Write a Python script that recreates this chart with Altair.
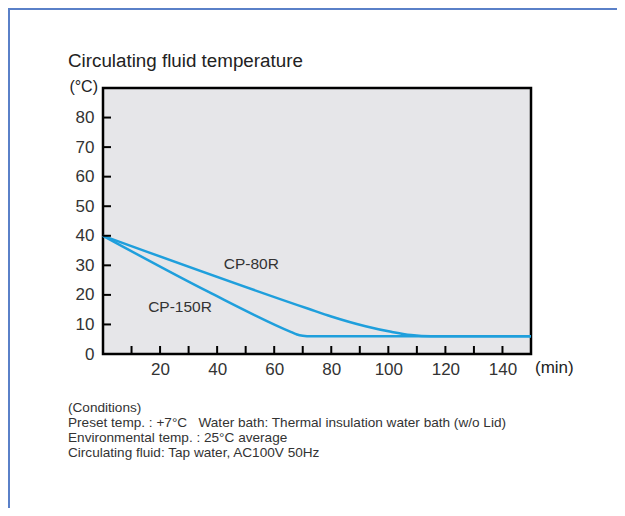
import altair as alt
import pandas as pd

# Data
cp80_t = [0, 72, 80, 92, 101, 108, 115, 150]
cp80_v = [40, 15.3, 12.7, 9.4, 7.5, 6.4, 6.0, 6.0]
cp150_t = [0, 37, 66, 68, 70, 73, 150]
cp150_v = [40, 21, 7.4, 6.6, 6.2, 6.0, 6.0]
x_ticks = [10, 20, 30, 40, 50, 60, 70, 80, 90, 100, 110, 120, 130, 140]
y_ticks = [10, 20, 30, 40, 50, 60, 70, 80]
x_labels = [20, 40, 60, 80, 100, 120, 140]
y_labels = [0, 10, 20, 30, 40, 50, 60, 70, 80]
labels = ["CP-80R", "CP-150R"]
label_t = [52, 27]
label_v = [30.5, 16]
conditions = [
    "(Conditions)",
    "Preset temp. : +7°C\u00a0\u00a0\u00a0Water bath: Thermal insulation water bath (w/o Lid)",
    "Environmental temp. : 25°C average",
    "Circulating fluid: Tap water, AC100V 50Hz",
]

W, H = 428, 266
FONT = "Liberation Sans"
BLUE = "#1f9fdc"

lines_df = pd.concat([
    pd.DataFrame({"t": cp80_t, "v": cp80_v, "s": "CP-80R"}),
    pd.DataFrame({"t": cp150_t, "v": cp150_v, "s": "CP-150R"}),
])

xs = alt.Scale(domain=[0, 150], nice=False, zero=False)
ys = alt.Scale(domain=[0, 90], nice=False)
xa = alt.Axis(values=x_labels, title=None, grid=False, labelOverlap=False,
              domain=False, ticks=False, labelFontSize=17, labelFont=FONT,
              labelColor="#333333", labelPadding=7)
ya = alt.Axis(values=y_labels, title=None, grid=False, labelOverlap=False,
              domain=False, ticks=False, labelFontSize=17, labelFont=FONT,
              labelColor="#333333", labelPadding=9)

lines = alt.Chart(lines_df).mark_line(
    color=BLUE, strokeWidth=2.5, interpolate="monotone").encode(
    x=alt.X("t:Q", scale=xs, axis=xa),
    y=alt.Y("v:Q", scale=ys, axis=ya),
    detail="s:N")

xt = alt.Chart(pd.DataFrame({"t": x_ticks})).mark_rule(
    color="black", strokeWidth=2).encode(
    x=alt.X("t:Q", scale=xs, axis=xa), y=alt.value(H), y2=alt.value(H - 8))
yt = alt.Chart(pd.DataFrame({"v": y_ticks})).mark_rule(
    color="black", strokeWidth=2).encode(
    y=alt.Y("v:Q", scale=ys, axis=ya), x=alt.value(0), x2=alt.value(8))

lab = alt.Chart(pd.DataFrame({"t": label_t, "v": label_v, "l": labels})).mark_text(
    fontSize=15.5, font=FONT, color="#333333").encode(
    x=alt.X("t:Q", scale=xs, axis=xa), y=alt.Y("v:Q", scale=ys, axis=ya), text="l:N")

title = alt.Chart(pd.DataFrame({"l": ["Circulating fluid temperature"]})).mark_text(
    fontSize=18.8, font=FONT, color="#222222", align="left", baseline="middle").encode(
    x=alt.value(-35), y=alt.value(-27), text="l:N")
unit_y = alt.Chart(pd.DataFrame({"l": ["(°C)"]})).mark_text(
    fontSize=16, font=FONT, color="#222222", align="right", baseline="middle").encode(
    x=alt.value(-5), y=alt.value(-1), text="l:N")
unit_x = alt.Chart(pd.DataFrame({"l": ["(min)"]})).mark_text(
    fontSize=17, font=FONT, color="#222222", align="left", baseline="middle").encode(
    x=alt.value(432), y=alt.value(280), text="l:N")

cond_df = pd.DataFrame({"l": ["\n".join(conditions)]})
cond = alt.Chart(cond_df).mark_text(
    fontSize=13.6, font=FONT, color="#333333", lineBreak="\n", lineHeight=15,
    align="left", baseline="top").encode(
    x=alt.value(-35), y=alt.value(313), text="l:N")

frame_top = alt.Chart(pd.DataFrame({"a": [0]})).mark_rule(
    color="#5a80c8", strokeWidth=2).encode(
    x=alt.value(-95), x2=alt.value(560), y=alt.value(-79))
frame_left = alt.Chart(pd.DataFrame({"a": [0]})).mark_rule(
    color="#5a80c8", strokeWidth=2).encode(
    x=alt.value(-94), y=alt.value(-80), y2=alt.value(440))

chart = alt.layer(
    lines, xt, yt, lab, title, unit_y, unit_x, cond, frame_top, frame_left
).properties(
    width=W, height=H,
    autosize=alt.AutoSizeParams(type="none"),
    padding={"left": 95, "top": 80, "right": 86, "bottom": 154},
).configure_view(
    fill="#e6e6e9", stroke="black", strokeWidth=2.5
)

chart.save("out.html", embed_options={"renderer": "svg", "actions": False})
